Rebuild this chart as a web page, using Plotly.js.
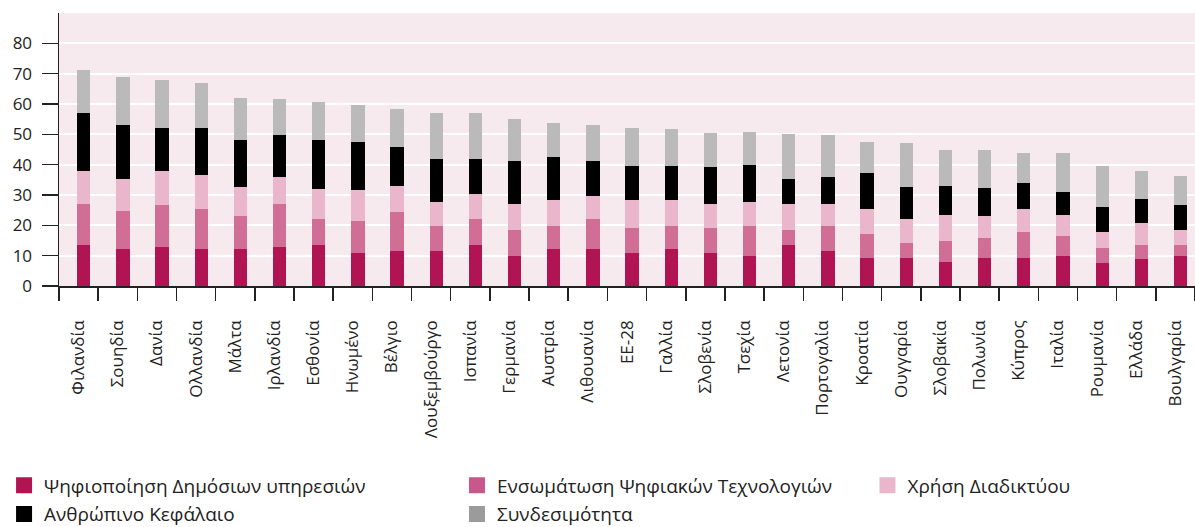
<!DOCTYPE html>
<html>
<head>
<meta charset="utf-8">
<script src="https://cdn.plot.ly/plotly-3.0.1.min.js"></script>
<style>
  html, body { margin: 0; padding: 0; background: #ffffff; }
  #chart { width: 1195px; height: 527px; }
</style>
</head>
<body>
<div id="chart"></div>
<script>
const countries = ["Φιλανδία","Σουηδία","Δανία","Ολλανδία","Μάλτα","Ιρλανδία","Εσθονία","Ηνωμένο","Βέλγιο","Λουξεμβούργο","Ισπανία","Γερμανία","Αυστρία","Λιθουανία","ΕΕ-28","Γαλλία","Σλοβενία","Τσεχία","Λετονία","Πορτογαλία","Κροατία","Ουγγαρία","Σλοβακία","Πολωνία","Κύπρος","Ιταλία","Ρουμανία","Ελλάδα","Βουλγαρία"];

const publicServices = [13.6,12.2,13.0,12.2,12.2,12.9,13.6,11.0,11.6,11.6,13.6,10.0,12.2,12.2,11.0,12.2,11.0,9.8,13.6,11.5,9.3,9.3,8.0,9.3,9.3,10.0,7.5,8.8,9.8];
const integration    = [13.3,12.5,13.6,13.1,11.0,14.0,8.4,10.3,12.9,8.1,8.4,8.4,7.5,10.0,8.0,7.5,8.0,9.9,5.0,8.2,8.0,5.0,6.9,6.4,8.4,6.5,5.0,4.7,3.7];
const internetUse    = [10.9,10.6,11.2,11.3,9.4,9.0,10.0,10.5,8.6,8.0,8.3,8.6,8.5,7.5,9.2,8.5,8.0,8.0,8.4,7.3,8.0,7.7,8.4,7.3,7.8,7.0,5.3,7.3,5.1];
const humanCapital   = [19.3,17.9,14.4,15.6,15.4,13.8,16.0,15.7,12.8,14.3,11.7,14.2,14.4,11.6,11.4,11.5,12.1,12.3,8.3,8.9,12.0,10.7,9.7,9.2,8.6,7.4,8.2,7.9,8.0];
const connectivity   = [14.0,15.8,15.7,14.7,13.9,11.9,12.5,12.2,12.6,15.1,15.1,14.0,11.2,11.9,12.6,12.2,11.4,10.8,14.8,13.8,10.2,14.4,11.7,12.5,9.9,13.1,13.7,9.1,9.8];

const seriesNames = ["Ψηφιοποίηση Δημόσιων υπηρεσιών","Ενσωμάτωση Ψηφιακών Τεχνολογιών","Χρήση Διαδικτύου","Ανθρώπινο Κεφάλαιο","Συνδεσιμότητα"];
const seriesValues = [publicServices, integration, internetUse, humanCapital, connectivity];
const barColors = ["#B01453","#D06E95","#E9B6CB","#000000","#BABABA"];
const legendColors = ["#B01453","#C8588A","#E9B6CB","#000000","#9B9B9B"];
const legendIds = ["legend","legend2","legend3","legend","legend2"];

const FONT = "'Open Sans', 'Noto Sans', sans-serif";

const traces = [];
seriesValues.forEach((vals, i) => {
  traces.push({
    type: "bar",
    x: countries,
    y: vals,
    name: seriesNames[i],
    showlegend: false,
    width: 0.34,
    offset: -0.04,
    marker: { color: barColors[i], line: { width: 0 } },
    hoverinfo: "x+y+name"
  });
});
// legend entries (square swatches)
[0,3,1,4,2].forEach(i => {
  traces.push({
    type: "scatter",
    mode: "markers",
    x: [null], y: [null],
    name: seriesNames[i],
    legend: legendIds[i],
    legendgroup: "g" + i,
    showlegend: true,
    marker: { symbol: "square", size: 18, color: legendColors[i] },
    hoverinfo: "skip"
  });
});

const legendBase = {
  orientation: "v",
  xanchor: "left",
  yanchor: "top",
  xref: "container",
  yref: "container",
  traceorder: "grouped",
  bgcolor: "rgba(0,0,0,0)",
  font: { family: FONT, size: 19, color: "#222" },
  tracegroupgap: 1,
  itemwidth: 30
};

const layout = {
  width: 1195,
  height: 527,
  margin: { l: 59, r: 0, t: 13, b: 241, pad: 0, autoexpand: false },
  paper_bgcolor: "#ffffff",
  plot_bgcolor: "#F7EAEF",
  barmode: "stack",
  font: { family: FONT, color: "#222" },
  xaxis: {
    type: "category",
    tickson: "boundaries",
    ticks: "outside",
    ticklen: 13,
    tickwidth: 1.5,
    tickcolor: "#222",
    showline: true,
    linecolor: "#222",
    linewidth: 1.5,
    showgrid: false,
    tickangle: -90,
    ticklabelstandoff: 26,
    tickfont: { family: FONT, size: 17, color: "#222" },
    range: [-0.5, 28.5],
    automargin: false,
    fixedrange: true
  },
  yaxis: {
    range: [0, 90],
    tickvals: [0,10,20,30,40,50,60,70,80],
    ticks: "outside",
    ticklen: 16,
    tickwidth: 1.5,
    tickcolor: "#222",
    showline: true,
    linecolor: "#222",
    linewidth: 1.5,
    showgrid: true,
    gridcolor: "#ffffff",
    gridwidth: 2,
    zeroline: false,
    ticklabelstandoff: 6,
    tickfont: { family: FONT, size: 17, color: "#222" },
    automargin: false,
    fixedrange: true
  },
  legend: Object.assign({}, legendBase, { x: 0.0034, y: 0.115 }),
  legend2: Object.assign({}, legendBase, { x: 0.3824, y: 0.115 }),
  legend3: Object.assign({}, legendBase, { x: 0.7259, y: 0.115 })
};

Plotly.newPlot("chart", traces, layout, { displayModeBar: false, staticPlot: true });
</script>
</body>
</html>
